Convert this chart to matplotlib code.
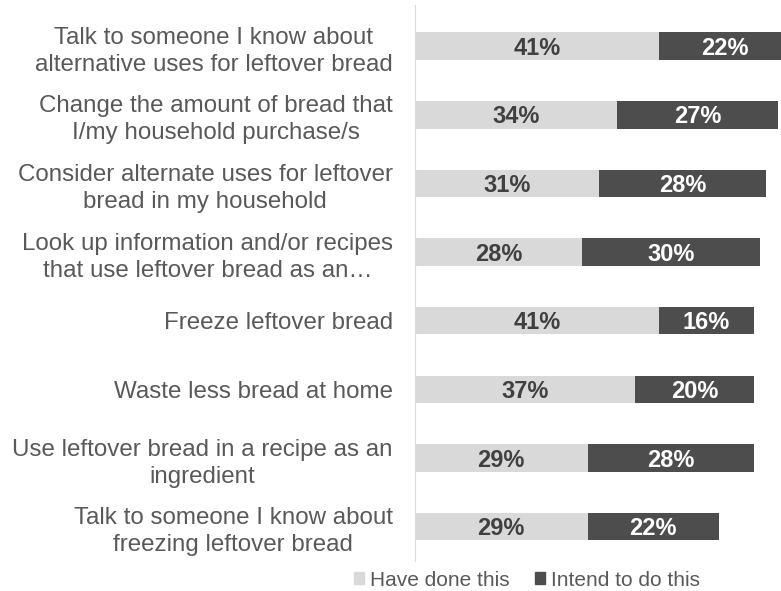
import matplotlib
matplotlib.use("Agg")
import matplotlib.pyplot as plt
from matplotlib.patches import Patch

# ─── DATA ───────────────────────────────────────────────────────────────────────
categories = [
    "Talk to someone I know about\nalternative uses for leftover bread",
    "Change the amount of bread that\nI/my household purchase/s",
    "Consider alternate uses for leftover\nbread in my household",
    "Look up information and/or recipes\nthat use leftover bread as an…",
    "Freeze leftover bread",
    "Waste less bread at home",
    "Use leftover bread in a recipe as an\ningredient",
    "Talk to someone I know about\nfreezing leftover bread",
]
have_done = [41, 34, 31, 28, 41, 37, 29, 29]
intend_to = [22, 27, 28, 30, 16, 20, 28, 22]
series_names = ["Have done this", "Intend to do this"]

LIGHT = "#d9d9d9"
DARK = "#4d4d4d"
TEXT = "#595959"
plt.rcParams["font.family"] = ["Liberation Sans", "DejaVu Sans"]

# ─── PLOT ───────────────────────────────────────────────────────────────────────
W, H = 781, 591
fig = plt.figure(figsize=(W / 100, H / 100), dpi=100)
ax = fig.add_axes([415 / W, 1 - 561 / H, (781 - 415) / W, (561 - 5) / H])

pos = list(range(len(categories)))
ax.barh(pos, have_done, height=0.4, color=LIGHT)
ax.barh(pos, intend_to, left=have_done, height=0.4, color=DARK)

for i, (a, b) in enumerate(zip(have_done, intend_to)):
    ax.text(a / 2, i + 0.03, f"{a}%", ha="center", va="center",
            fontsize=17, fontweight="bold", color="#404040")
    ax.text(a + b / 2, i + 0.03, f"{b}%", ha="center", va="center",
            fontsize=17, fontweight="bold", color="white")

ax.set_xlim(0, 61.5)
ax.set_ylim(len(categories) - 0.5, -0.6)
ax.set_yticks(pos)
ax.set_yticklabels(categories, fontsize=17.4, color=TEXT, multialignment="center",
                   linespacing=1.3)
ax.tick_params(axis="y", length=0, pad=16)
ax.set_xticks([])
for s in ["top", "right", "bottom"]:
    ax.spines[s].set_visible(False)
ax.spines["left"].set_color("#d9d9d9")

handles = [Patch(color=LIGHT), Patch(color=DARK)]
fig.legend(handles, series_names, loc="center", bbox_to_anchor=(527 / W, 1 - 580 / H),
           ncol=2, frameon=False, fontsize=15, labelcolor=TEXT,
           handlelength=0.5, handleheight=0.5, handletextpad=0.3, columnspacing=1.2)

fig.savefig("out.png", dpi=100)
